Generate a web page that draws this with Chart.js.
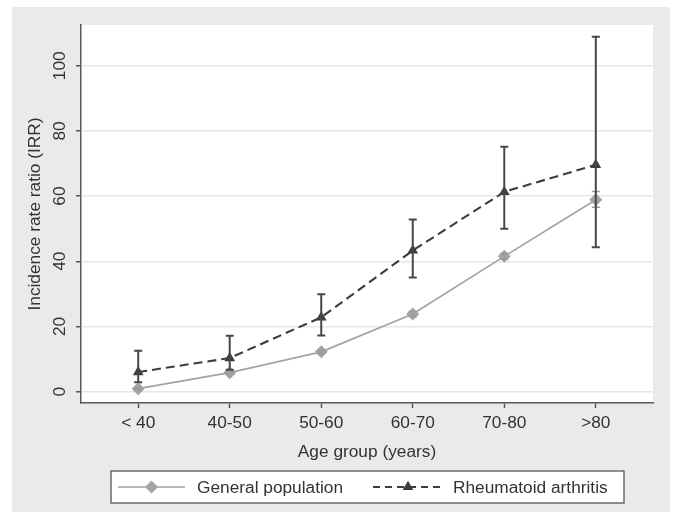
<!DOCTYPE html>
<html>
<head>
<meta charset="utf-8">
<script src="https://cdn.jsdelivr.net/npm/chart.js@4.4.1/dist/chart.umd.min.js"></script>
<style>
  html, body { margin: 0; padding: 0; background: #fff; }
  #wrap { width: 675px; height: 513px; }
</style>
</head>
<body>
<div id="wrap"><canvas id="irrChart"></canvas></div>
<script>
/* globals Chart, document */
const ageGroups = ['< 40', '40-50', '50-60', '60-70', '70-80', '>80'];

const generalIrr = [0.9, 5.8, 12.2, 23.8, 41.5, 58.9];
const generalLower = [0.6, 5.4, 11.7, 23.0, 40.6, 56.6];
const generalUpper = [1.2, 6.2, 12.7, 24.6, 42.4, 61.4];

const raIrr = [6.0, 10.3, 22.8, 43.3, 61.3, 69.6];
const raLower = [2.9, 6.7, 17.2, 35.0, 50.0, 44.3];
const raUpper = [12.5, 17.1, 29.9, 52.8, 75.1, 108.9];

const yTicks = [0, 20, 40, 60, 80, 100];

const legendLabels = ['General population', 'Rheumatoid arthritis'];

const panelGray = '#eaeaea';
const axisColor = '#595959';
const gridColor = '#e6e6e6';
const textColor = '#333333';
const generalColor = '#a3a3a3';
const raColor = '#3d3d3d';
const fontFamily = '"Liberation Sans", Arial, sans-serif';
const fontSize = 17.3;

Chart.defaults.font.family = fontFamily;
Chart.defaults.font.size = fontSize;
Chart.defaults.color = textColor;

const toPoints = values => values.map((y, i) => ({ x: i, y }));

// stata-like grey panel behind a white plot region
const panelPlugin = {
  id: 'panel',
  beforeDraw(chart) {
    const { ctx, chartArea } = chart;
    ctx.save();
    ctx.fillStyle = '#ffffff';
    ctx.fillRect(0, 0, chart.width, chart.height);
    ctx.fillStyle = panelGray;
    ctx.fillRect(12, 7, 658, 505);
    ctx.fillStyle = '#ffffff';
    ctx.fillRect(chartArea.left, chartArea.top, chartArea.right - chartArea.left, chartArea.bottom - chartArea.top);
    ctx.restore();
  },
};

// confidence intervals, drawn through the chart scales
const errorBarPlugin = {
  id: 'errorBars',
  afterDatasetsDraw(chart) {
    const { ctx } = chart;
    const xScale = chart.scales.x;
    const yScale = chart.scales.y;
    const drawBars = (lower, upper, color, width) => {
      ctx.save();
      ctx.strokeStyle = color;
      ctx.lineWidth = width;
      lower.forEach((lo, i) => {
        const px = xScale.getPixelForValue(i);
        const yLo = yScale.getPixelForValue(lo);
        const yHi = yScale.getPixelForValue(upper[i]);
        ctx.beginPath();
        ctx.moveTo(px, yLo); ctx.lineTo(px, yHi);
        ctx.moveTo(px - 4, yLo); ctx.lineTo(px + 4, yLo);
        ctx.moveTo(px - 4, yHi); ctx.lineTo(px + 4, yHi);
        ctx.stroke();
      });
      ctx.restore();
    };
    drawBars(generalLower, generalUpper, '#9a9a9a', 1.5);
    drawBars(raLower, raUpper, '#474747', 2);
  },
};

// boxed legend below the axis title, line + marker samples
const boxLegendPlugin = {
  id: 'boxLegend',
  afterDraw(chart) {
    const { ctx } = chart;
    const midY = 487;
    ctx.save();
    ctx.fillStyle = '#ffffff';
    ctx.fillRect(111, 471, 513, 32);
    ctx.strokeStyle = '#555555';
    ctx.lineWidth = 1.3;
    ctx.strokeRect(111, 471, 513, 32);

    ctx.strokeStyle = generalColor;
    ctx.lineWidth = 1.5;
    ctx.beginPath(); ctx.moveTo(118, midY); ctx.lineTo(185, midY); ctx.stroke();
    ctx.fillStyle = generalColor;
    Chart.helpers.drawPoint(ctx, { pointStyle: 'rectRot', radius: 6.5, borderWidth: 0 }, 151.5, midY);

    ctx.strokeStyle = raColor;
    ctx.lineWidth = 1.8;
    ctx.setLineDash([7, 5]);
    ctx.beginPath(); ctx.moveTo(373, midY); ctx.lineTo(443, midY); ctx.stroke();
    ctx.setLineDash([]);
    ctx.fillStyle = raColor;
    Chart.helpers.drawPoint(ctx, { pointStyle: 'triangle', radius: 6.2, borderWidth: 0 }, 408, midY);

    ctx.fillStyle = textColor;
    ctx.font = fontSize + 'px ' + fontFamily;
    ctx.textBaseline = 'middle';
    ctx.fillText(legendLabels[0], 197, midY + 1);
    ctx.fillText(legendLabels[1], 453, midY + 1);
    ctx.restore();
  },
};

new Chart(document.getElementById('irrChart').getContext('2d'), {
  type: 'line',
  data: {
    datasets: [
      {
        label: legendLabels[0],
        data: toPoints(generalIrr),
        borderColor: generalColor,
        backgroundColor: generalColor,
        borderWidth: 1.7,
        pointStyle: 'rectRot',
        pointRadius: 6.5,
        pointBorderWidth: 0,
        tension: 0,
      },
      {
        label: legendLabels[1],
        data: toPoints(raIrr),
        borderColor: raColor,
        backgroundColor: raColor,
        borderWidth: 2.1,
        borderDash: [9, 5],
        pointStyle: 'triangle',
        pointRadius: 6.2,
        pointBorderWidth: 0,
        tension: 0,
      },
    ],
  },
  options: {
    responsive: true,
    maintainAspectRatio: false,
    animation: false,
    layout: { padding: { left: 0, top: 25, right: 22, bottom: 40 } },
    plugins: {
      legend: { display: false },
      tooltip: { enabled: false },
    },
    scales: {
      x: {
        type: 'linear',
        min: -0.625,
        max: 5.625,
        afterFit(scale) { scale.height = 70; },
        afterBuildTicks(scale) {
          scale.ticks = ageGroups.map((g, i) => ({ value: i }));
        },
        ticks: {
          padding: 5,
          color: textColor,
          callback: value => ageGroups[value],
        },
        grid: { display: true, drawOnChartArea: false, drawTicks: true, tickLength: 5, tickColor: axisColor, tickWidth: 1.5 },
        border: { display: true, color: axisColor, width: 1.5 },
        title: { display: true, text: 'Age group (years)', color: textColor, padding: { top: 0, bottom: 10.6 } },
      },
      y: {
        min: -3.5,
        max: 112.5,
        afterFit(scale) { scale.width = 81; },
        afterBuildTicks(scale) {
          scale.ticks = yTicks.map(v => ({ value: v }));
        },
        ticks: {
          padding: 1.5,
          minRotation: 90,
          maxRotation: 90,
          crossAlign: 'center',
          color: textColor,
        },
        grid: { color: gridColor, lineWidth: 1.5, tickLength: 5, tickColor: axisColor, tickWidth: 1.5 },
        border: { display: true, color: axisColor, width: 1.5 },
        title: { display: true, text: 'Incidence rate ratio (IRR)', color: textColor, padding: { top: 24.6, bottom: 0 } },
      },
    },
  },
  plugins: [panelPlugin, errorBarPlugin, boxLegendPlugin],
});
</script>
</body>
</html>
